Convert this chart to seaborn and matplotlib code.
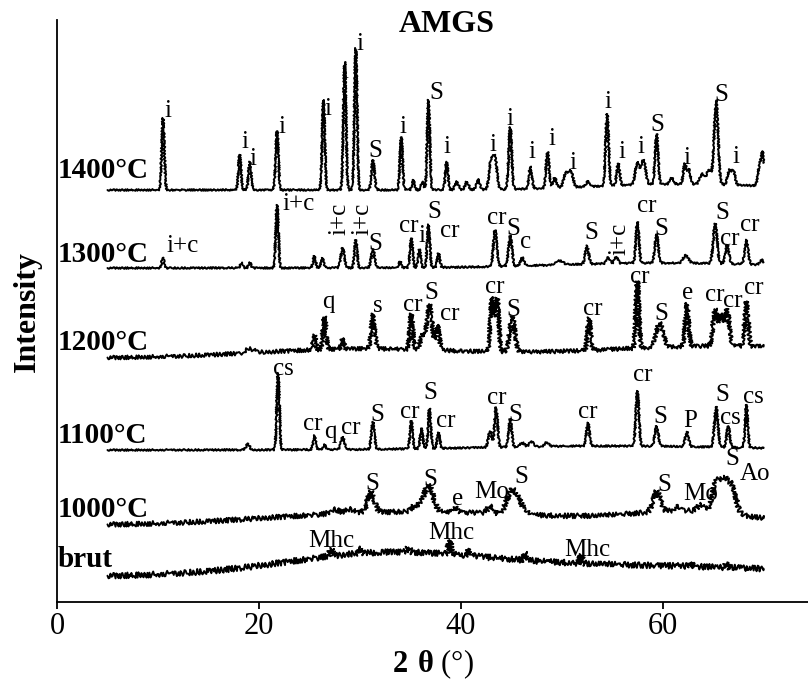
import numpy as np
import pandas as pd
import matplotlib
matplotlib.use("Agg")
import matplotlib.pyplot as plt
import seaborn as sns

sns.set_theme(style="ticks")
plt.rcParams["font.family"] = ["Liberation Serif", "DejaVu Serif"]
plt.rcParams["mathtext.fontset"] = "custom"
plt.rcParams["mathtext.rm"] = "Liberation Serif"
plt.rcParams["mathtext.bf"] = "Liberation Serif:bold"
plt.rcParams["text.color"] = "black"
plt.rcParams["axes.labelcolor"] = "black"
plt.rcParams["xtick.color"] = "black"

# ---------------------------------------------------------------------------
# Diffraction patterns of the AMGS samples, described as peak tables:
# centre (2-theta, deg), height (counts, arbitrary) and FWHM (deg).
# Broad entries (large FWHM) are the amorphous background humps.
# ---------------------------------------------------------------------------
two_theta = np.arange(5.0, 70.01, 0.02)

samples = ["1400°C", "1300°C", "1200°C", "1100°C", "1000°C", "brut"]
stack_offset = [412, 334, 244, 152, 77, 25]

pos_1400 = [10.5, 18.1, 19.1, 21.8, 26.4, 28.5, 29.6, 31.3, 34.1, 35.3, 36.2, 36.8,
            38.6, 39.6, 40.6, 41.7, 43.0, 43.4, 44.9, 46.9, 48.6, 49.3, 50.4, 50.9,
            52.6, 54.5, 55.6, 57.5, 58.1, 59.4, 60.9, 62.2, 62.6, 63.9, 64.6, 65.3,
            66.6, 67.0, 69.6, 69.9, 62.0]
hgt_1400 = [72, 35, 28, 59, 90, 127, 142, 30, 53, 10, 8, 90,
            28, 8, 8, 10, 28, 30, 62, 22, 36, 10, 14, 16,
            6, 72, 22, 22, 24, 50, 6, 20, 14, 10, 14, 84,
            14, 14, 20, 30, 6]
fwhm_1400 = [0.3, 0.3, 0.3, 0.3, 0.3, 0.3, 0.3, 0.35, 0.3, 0.3, 0.3, 0.3,
             0.3, 0.4, 0.4, 0.4, 0.45, 0.45, 0.35, 0.35, 0.35, 0.4, 0.5, 0.5,
             0.4, 0.35, 0.35, 0.5, 0.5, 0.35, 0.4, 0.35, 0.35, 0.5, 0.6, 0.45,
             0.4, 0.4, 0.4, 0.3, 20.0]

pos_1300 = [10.5, 18.3, 19.1, 21.8, 25.5, 26.3, 28.3, 29.6, 31.3, 34.0, 35.1, 35.9,
            36.8, 37.8, 43.4, 44.9, 46.1, 49.8, 52.5, 54.6, 55.4, 57.5, 59.4, 62.3,
            65.2, 66.4, 68.3, 69.8, 60.0]
hgt_1300 = [10, 5, 5, 63, 12, 10, 20, 28, 18, 6, 29, 18,
            43, 14, 36, 30, 8, 4, 18, 6, 6, 41, 28, 8,
            40, 19, 24, 5, 5]
fwhm_1300 = [0.3, 0.3, 0.3, 0.3, 0.3, 0.3, 0.4, 0.3, 0.4, 0.3, 0.3, 0.3,
             0.3, 0.3, 0.4, 0.4, 0.4, 0.8, 0.4, 0.4, 0.4, 0.35, 0.4, 0.6,
             0.45, 0.4, 0.4, 0.4, 25.0]

pos_1200 = [19.1, 25.5, 26.5, 28.3, 31.3, 35.1, 36.2, 36.9, 37.7, 43.1, 43.6, 45.1,
            52.7, 57.5, 59.7, 62.4, 65.2, 65.8, 66.4, 68.3, 30.0, 66.0]
hgt_1200 = [4, 14, 32, 10, 34, 35, 14, 45, 25, 53, 53, 35,
            32, 67, 24, 43, 36, 30, 36, 45, 9, 12]
fwhm_1200 = [1.0, 0.3, 0.35, 0.3, 0.4, 0.35, 0.5, 0.6, 0.4, 0.4, 0.4, 0.6,
             0.35, 0.35, 0.8, 0.4, 0.5, 0.5, 0.5, 0.4, 24.0, 30.0]

pos_1100 = [18.9, 21.9, 25.5, 26.5, 28.3, 31.3, 35.1, 36.1, 36.9, 37.8, 42.9, 43.5,
            44.9, 46.1, 47.0, 48.5, 52.6, 57.5, 59.4, 62.4, 65.3, 66.5, 68.3, 55.0]
hgt_1100 = [6, 77, 14, 5, 12, 27, 28, 20, 40, 16, 16, 40,
            28, 4, 5, 4, 23, 55, 20, 15, 40, 21, 43, 4]
fwhm_1100 = [0.4, 0.3, 0.3, 0.3, 0.4, 0.35, 0.3, 0.3, 0.3, 0.3, 0.4, 0.35,
             0.35, 0.5, 0.5, 0.5, 0.35, 0.35, 0.4, 0.4, 0.4, 0.35, 0.3, 30.0]

pos_1000 = [27.5, 29.0, 31.1, 35.5, 36.8, 39.5, 42.9, 45.1, 46.0, 59.4, 61.5, 63.8,
            65.3, 66.1, 66.9, 32.0, 48.0, 63.0]
hgt_1000 = [4, 4, 20, 6, 26, 5, 7, 24, 6, 20, 4, 6,
            28, 30, 26, 12, 5, 13]
fwhm_1000 = [1.0, 1.0, 0.8, 1.0, 1.1, 0.5, 0.6, 1.2, 1.0, 0.8, 0.8, 0.8,
             0.9, 0.9, 0.9, 26.0, 20.0, 14.0]

pos_brut = [27.2, 30.0, 34.8, 38.9, 40.8, 46.4, 51.9, 62.8, 66.3, 32.0, 52.0]
hgt_brut = [6, 4, 4, 14, 5, 6, 7, 4, 4, 17, 12]
fwhm_brut = [0.4, 0.4, 0.4, 0.25, 0.3, 0.25, 0.25, 0.3, 0.3, 22.0, 50.0]

peak_tables = [
    (pos_1400, hgt_1400, fwhm_1400),
    (pos_1300, hgt_1300, fwhm_1300),
    (pos_1200, hgt_1200, fwhm_1200),
    (pos_1100, hgt_1100, fwhm_1100),
    (pos_1000, hgt_1000, fwhm_1000),
    (pos_brut, hgt_brut, fwhm_brut),
]

# Phase labels: text and the peak they mark
lab_1400 = ["i", "i", "i", "i", "i", "i", "i", "S", "i", "S", "i", "i", "i", "i",
            "i", "i", "i", "i", "i", "S", "i", "S", "i"]
at_1400 = [10.5, 18.1, 19.1, 21.8, 26.4, 28.5, 29.6, 31.3, 34.1, 36.8, 38.6, 43.2,
           44.9, 46.9, 48.6, 50.8, 54.5, 55.6, 57.9, 59.4, 62.3, 65.3, 66.8]

lab_1300 = ["i+c", "i+c", "i+c", "i+c", "S", "cr", "i", "S", "cr", "cr", "S", "c",
            "S", "i+c", "cr", "S", "S", "cr", "cr"]
at_1300 = [10.5, 21.8, 28.3, 29.6, 31.3, 35.1, 35.9, 36.8, 37.8, 43.4, 44.9, 46.1,
           52.5, 55.0, 57.5, 59.4, 65.2, 66.4, 68.3]

lab_1200 = ["q", "s", "cr", "S", "cr", "cr", "S", "cr", "cr", "S", "e", "cr", "cr", "cr"]
at_1200 = [26.5, 31.3, 35.1, 36.9, 37.7, 43.4, 45.1, 52.7, 57.5, 59.7, 62.4, 65.3,
           66.4, 68.3]

lab_1100 = ["cs", "cr", "q", "cr", "S", "cr", "S", "cr", "cr", "S", "cr", "cr", "S",
            "P", "S", "cs", "cs"]
at_1100 = [21.9, 25.5, 26.5, 28.3, 31.3, 35.1, 36.9, 37.8, 43.5, 44.9, 52.6, 57.5,
           59.4, 62.4, 65.3, 66.5, 68.3]

lab_1000 = ["S", "S", "e", "Mo", "S", "S", "Mo", "S", "Ao"]
at_1000 = [31.1, 36.8, 39.5, 42.9, 45.1, 59.4, 64.0, 66.1, 66.9]

lab_brut = ["Mhc", "Mhc", "Mhc"]
at_brut = [27.2, 38.9, 51.9]

label_tables = [(lab_1400, at_1400), (lab_1300, at_1300), (lab_1200, at_1200),
                (lab_1100, at_1100), (lab_1000, at_1000), (lab_brut, at_brut)]

# Label nudges (pixels right, pixels above the peak top)
nudge = [
    [(5, 1), (5, 7), (3, -3), (5, -2), (4, -15), (0, -15), (4, -2), (2, 3), (2, 4),
     (8, 1), (0, 9), (0, 4), (0, 2), (2, 9), (4, 7), (3, 1), (1, 6), (4, 5), (0, 7),
     (1, 3), (1, 0), (5, -1), (5, 7)],
    [(20, 6), (22, -5), (-3, 13), (7, 5), (2, 0), (-3, 7), (3, 8), (6, 7), (11, 16),
     (2, 7), (3, 1), (3, 10), (4, 7), (7, 3), (9, 10), (5, 0), (7, 5), (3, 0), (3, 9)],
    [(4, 9), (5, 3), (1, 3), (2, 6), (12, 5), (0, 5), (1, 1), (4, 3), (2, -2), (2, 3),
     (1, 4), (-1, 8), (6, 2), (7, 7)],
    [(5, -2), (-2, 6), (6, 7), (8, 4), (4, 1), (-2, 3), (1, 10), (7, 5), (1, 3), (5, -2),
     (0, 5), (5, 10), (4, 3), (3, 5), (6, 6), (2, 2), (7, 2)],
    [(1, 2), (2, 0), (2, 2), (2, 8), (9, 7), (8, 1), (-2, 5), (8, 12), (23, 2)],
    [(0, 3), (2, 1), (6, 0)],
]
vertical_1300 = [2, 3, 13]      # indices of the "i+c" tags written upright
sample_tag_lift = [12, 6, 8, 7, 8, 10]
sketch_amp = [0.9, 0.9, 2.0, 0.9, 2.5, 3.0]


def pattern(x, pos, hgt, fwhm):
    y = np.zeros_like(x)
    for p, h, w in zip(pos, hgt, fwhm):
        y += h * np.exp(-4.0 * np.log(2.0) * ((x - p) / w) ** 2)
    return y


fig = plt.figure(figsize=(8.08, 6.81), dpi=100)
ax = fig.add_axes([57 / 808, 79 / 681, 751 / 808, 582 / 681])

for i, (name, off, (pos, hgt, fwhm)) in enumerate(zip(samples, stack_offset, peak_tables)):
    inten = off + pattern(two_theta, pos, hgt, fwhm)
    df = pd.DataFrame({"two_theta": two_theta, "intensity": inten})
    sns.lineplot(data=df, x="two_theta", y="intensity", ax=ax, color="black",
                 linewidth=1.4, estimator=None, sort=False)
    ax.lines[-1].set_sketch_params(scale=sketch_amp[i], length=3, randomness=2)

    # sample name at the start of its trace
    ax.annotate(name, xy=(0, off), xytext=(1, sample_tag_lift[i]),
                textcoords="offset pixels", ha="left", va="baseline",
                fontsize=21, fontweight="bold", color="black")

    labs, ats = label_tables[i]
    for j, (txt, p) in enumerate(zip(labs, ats)):
        win = (two_theta > p - 0.3) & (two_theta < p + 0.3)
        top = inten[win].max()
        dx, dy = nudge[i][j]
        upright = (i == 1 and j in vertical_1300)
        ax.annotate(txt, xy=(p, top), xytext=(dx, dy), textcoords="offset pixels",
                    ha="center", va="bottom" if upright else "baseline",
                    rotation=90 if upright else 0, fontsize=18, color="black")

ax.set_xlim(0, 74.4)
ax.set_ylim(0, 582)
ax.set_xticks([0, 20, 40, 60])
ax.set_yticks([])
ax.tick_params(axis="x", direction="out", length=5, width=1.3, pad=2, labelsize=22,
               colors="black")
for side in ["top", "right"]:
    ax.spines[side].set_visible(False)
for side in ["left", "bottom"]:
    ax.spines[side].set_color("black")
    ax.spines[side].set_linewidth(1.3)
ax.set_ylabel("")
ax.set_xlabel(r"$\mathbf{2\ θ}$ (°)", fontsize=22, labelpad=5, color="black")

fig.text(447 / 808, 1 - 32 / 681, "AMGS", ha="center", va="baseline",
         fontsize=23, fontweight="bold", color="black")
fig.text(27 / 808, 1 - 311 / 681, "Intensity", rotation=90, ha="center", va="center",
         fontsize=23, fontweight="bold", color="black")

fig.savefig("out.png", dpi=100, facecolor="white")
